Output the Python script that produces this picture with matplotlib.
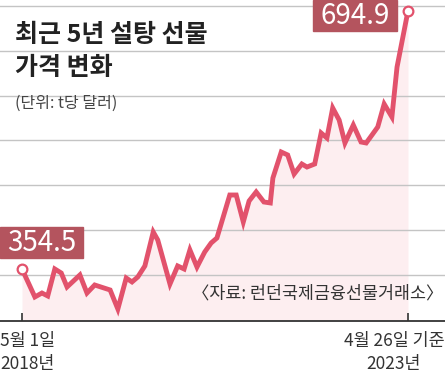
import matplotlib
matplotlib.use('Agg')
import matplotlib.pyplot as plt
from matplotlib.patches import Rectangle
import numpy as np

# months since 2018-05-01, sugar futures price (USD per tonne)
months = [0, 2.0, 3.1, 4.0, 5.1, 6.1, 7.0, 9.0, 10.1, 11.3, 13.7, 14.9, 16.2, 17.1,
          18.0, 19.1, 20.4, 21.1, 23.0, 24.2, 25.2, 26.1, 27.2, 28.4, 29.4, 30.3,
          32.3, 33.3, 34.4, 35.3, 36.4, 37.6, 38.6, 39.0, 40.3, 41.3, 42.3, 43.5,
          44.3, 45.5, 46.5, 47.4, 48.3, 49.3, 50.2, 51.5, 52.7, 53.5, 54.4, 55.3,
          56.3, 57.5, 58.3, 60]
price = [354.5, 317.6, 322.8, 318.9, 354.5, 349.2, 330.8, 346.6, 322.8, 333.4,
         326.8, 301.7, 342.6, 337.4, 344.0, 358.5, 403.3, 392.8, 334.7, 358.5,
         354.5, 379.6, 357.1, 376.9, 388.8, 395.4, 452.1, 452.1, 416.5, 444.2,
         456.1, 442.9, 441.6, 474.5, 508.8, 504.9, 479.8, 493.0, 489.0, 493.0,
         533.9, 527.3, 566.9, 551.0, 520.7, 544.4, 522.0, 520.7, 531.2, 541.8,
         572.1, 555.0, 620.9, 694.9]

title_lines = ['최근 5년 설탕 선물', '가격 변화']
unit_label = '(단위: t당 달러)'
source_label = '〈자료: 런던국제금융선물거래소〉'
start_label = ['5월 1일', '2018년']
end_label = ['4월 26일 기준', '2023년']

LINE = '#e2526c'
FILL = '#fdeef0'
BOX = '#b4545e'
KR = ['Noto Sans CJK KR', 'DejaVu Sans']
NUM = ['Liberation Sans Narrow', 'Noto Sans CJK KR', 'DejaVu Sans']

W, H = 445, 376
fig = plt.figure(figsize=(W / 100, H / 100), dpi=100)
fig.patch.set_facecolor('white')

def fx(px):
    return px / W

def fy(py):
    return 1 - py / H

ax = fig.add_axes([0, fy(321), 1, 321 / H])
ax.set_facecolor('none')
ymin, ymax = 285.9, 709.3
ax.set_xlim(-22 / 6.433, (W - 22) / 6.433)
ax.set_ylim(ymin, ymax)

ax.fill_between(months, price, ymin, color=FILL, lw=0, zorder=1)
ax.set_yticks(np.arange(346.6, 705, 59.13))
ax.yaxis.grid(True, color='#c4c4c4', lw=1.0, zorder=2)
ax.set_axisbelow(False)
ax.tick_params(axis='y', length=0, labelleft=False)
ax.plot(months, price, color=LINE, lw=3.5, solid_joinstyle='miter', zorder=4)
ax.plot([months[0], months[-1]], [price[0], price[-1]], 'o', ms=7,
        mfc='white', mec=LINE, mew=1.6, zorder=5)

for s in ['top', 'left', 'right']:
    ax.spines[s].set_visible(False)
ax.spines['bottom'].set_color('#333333')
ax.spines['bottom'].set_linewidth(1.3)
ax.set_xticks([months[0], months[-1]])
ax.tick_params(axis='x', direction='in', length=6, width=1.2, color='#333333',
               labelbottom=False)

# value boxes
for (x0, y0, x1, y1), val in [((0, 227, 83, 258), price[0]), ((313, 0, 397, 31), price[-1])]:
    fig.patches.append(Rectangle((fx(x0), fy(y1)), fx(x1 - x0), (y1 - y0) / H,
                                 transform=fig.transFigure, color=BOX, zorder=10))
    fig.text(fx((x0 + x1) / 2), fy((y0 + y1) / 2 + 0.5), f'{val:.1f}', color='white',
             fontsize=20, family=NUM, ha='center', va='center', zorder=11)

fig.text(fx(15), fy(35), title_lines[0], fontsize=18, fontweight='bold',
         family=KR, color='#222222', ha='left', va='center')
fig.text(fx(15), fy(68), title_lines[1], fontsize=18, fontweight='bold',
         family=KR, color='#222222', ha='left', va='center')
fig.text(fx(15), fy(103), unit_label, fontsize=11.5, family=KR, color='#444444',
         ha='left', va='center')
fig.text(fx(443), fy(294), source_label, fontsize=12.5, family=KR, color='#333333',
         ha='right', va='center')

fig.text(fx(0), fy(341), start_label[0], fontsize=12.5, family=KR, color='#333333',
         ha='left', va='center')
fig.text(fx(0), fy(364), start_label[1], fontsize=12.5, family=KR, color='#333333',
         ha='left', va='center')
fig.text(fx(445), fy(341), end_label[0], fontsize=12.5, family=KR, color='#333333',
         ha='right', va='center')
fig.text(fx(421), fy(364), end_label[1], fontsize=12.5, family=KR, color='#333333',
         ha='right', va='center')

fig.savefig('out.png', dpi=100)
